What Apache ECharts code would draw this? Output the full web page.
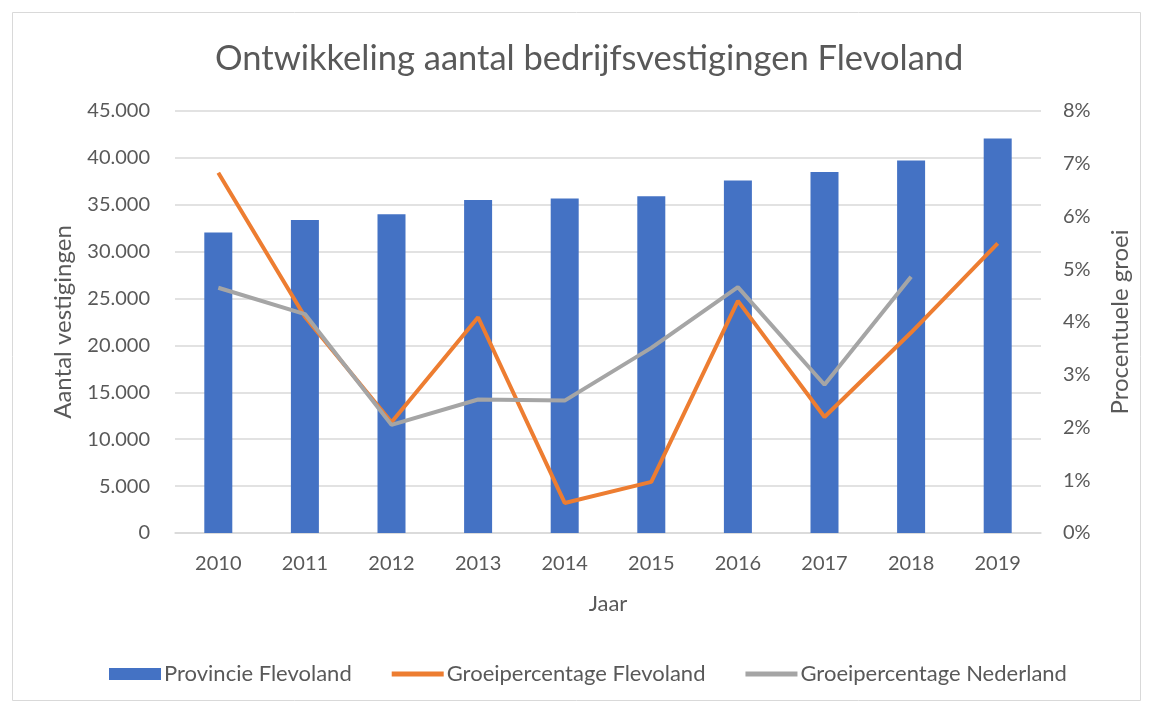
<!DOCTYPE html>
<html><head><meta charset="utf-8">
<script src="https://cdn.jsdelivr.net/npm/echarts@6/dist/echarts.min.js"></script>
<style>html,body{margin:0;padding:0;background:#fff}#c{width:1153px;height:706px}</style>
</head><body><div id="c"></div>
<script>
const years = ['2010','2011','2012','2013','2014','2015','2016','2017','2018','2019'];
const provincieFlevoland = [32050, 33370, 33980, 35500, 35680, 35900, 37600, 38490, 39730, 42080];
const groeiFlevoland = [6.83, 4.1, 2.1, 4.09, 0.57, 0.97, 4.4, 2.2, 3.8, 5.49];
const groeiNederland = [4.65, 4.15, 2.05, 2.53, 2.51, 3.51, 4.66, 2.81, 4.86, null];

const F = 'Lato, "Open Sans", sans-serif';
const TC = '#595959';
const lineIcon = 'path://M0,0M52,12M0,3.5H52V8.5H0Z';
const chart = echarts.init(document.getElementById('c'), null, {renderer:'canvas'});
chart.setOption({
  animation:false,
  backgroundColor:'#fff',
  graphic:[{type:'rect',shape:{x:12.5,y:12.5,width:1128,height:688},style:{fill:'none',stroke:'#d9d9d9',lineWidth:1},z:-1}],
  title:{text:'Ontwikkeling aantal bedrijfsvestigingen Flevoland',left:210,top:36,
    textStyle:{fontFamily:F,fontSize:34.5,fontWeight:'normal',color:TC}},
  legend:{bottom:16,left:104,itemWidth:52,itemHeight:12,itemGap:40,
    textStyle:{fontFamily:F,fontSize:22,color:TC,padding:[0,0,0,-2]},
    data:[{name:'Provincie Flevoland',icon:'rect'},{name:'Groeipercentage Flevoland',icon:lineIcon},{name:'Groeipercentage Nederland',icon:lineIcon}]},
  grid:{left:175,right:112,top:111,bottom:173},
  xAxis:{type:'category',data:years,name:'Jaar',nameLocation:'middle',nameGap:60,
    nameTextStyle:{fontFamily:F,fontSize:22,color:TC},
    axisLine:{lineStyle:{color:'#d9d9d9',width:1.5}},axisTick:{show:false},
    axisLabel:{fontFamily:F,fontSize:20,color:TC,margin:21}},
  yAxis:[{type:'value',min:0,max:45000,interval:5000,name:'Aantal vestigingen',nameLocation:'middle',nameGap:100,
    nameTextStyle:{fontFamily:F,fontSize:24,color:TC},
    axisLine:{show:false},axisTick:{show:false},
    axisLabel:{fontFamily:F,fontSize:20,color:TC,margin:25,formatter:v=>v===0?'0':v.toLocaleString('nl-NL')},
    splitLine:{lineStyle:{color:'#d9d9d9',width:1.5}}},
    {type:'value',min:0,max:8,interval:1,name:'Procentuele groei',nameLocation:'middle',nameGap:67,nameRotate:90,
    nameTextStyle:{fontFamily:F,fontSize:24,color:TC},
    axisLine:{show:false},axisTick:{show:false},splitLine:{show:false},
    axisLabel:{fontFamily:F,fontSize:20,color:TC,margin:22,formatter:'{value}%'}}],
  series:[
    {name:'Provincie Flevoland',type:'bar',data:provincieFlevoland,barWidth:28,itemStyle:{color:'#4472C4'}},
    {name:'Groeipercentage Flevoland',type:'line',yAxisIndex:1,data:groeiFlevoland,symbol:'none',
      lineStyle:{color:'#ED7D31',width:4},itemStyle:{color:'#ED7D31'}},
    {name:'Groeipercentage Nederland',type:'line',yAxisIndex:1,data:groeiNederland,symbol:'none',
      lineStyle:{color:'#A5A5A5',width:4},itemStyle:{color:'#A5A5A5'}}
  ]
});
</script></body></html>
